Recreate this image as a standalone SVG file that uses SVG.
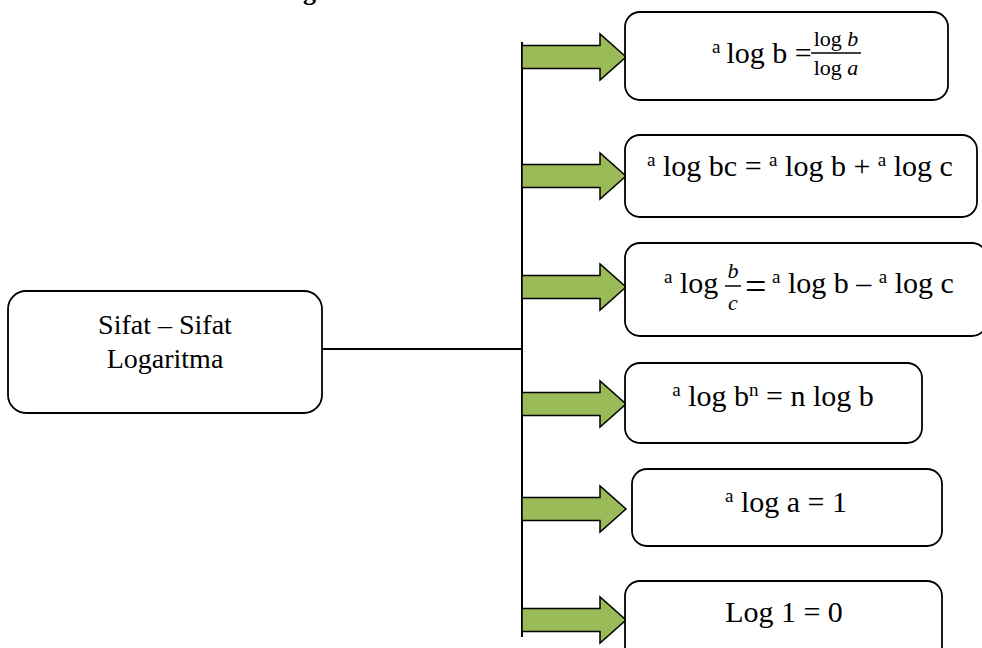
<svg xmlns="http://www.w3.org/2000/svg" width="982" height="648" viewBox="0 0 982 648">
  <style>
    .box { fill: #ffffff; stroke: #000000; stroke-width: 1.8; }
    .arrow { fill: #9BBB59; stroke: #000000; stroke-width: 1.5; stroke-linejoin: miter; }
    .line { stroke: #000000; stroke-width: 2; fill: none; }
    .t { font-family: "Liberation Serif", "Times New Roman", serif; font-size: 30px; fill: #000000; }
    .root { font-size: 28px; }
    .sup { font-size: 19px; }
    .frac { font-family: "Liberation Serif", "Times New Roman", serif; font-size: 22px; fill: #000000; }
    .it { font-style: italic; }
  </style>
  <defs>
    <!-- block arrow, tip at (104, 0), tail at (0, 0) -->
    <path id="blockArrow" class="arrow" d="M0,-11.5 H78 V-23 L104,0 L78,23 V11.5 H0 Z"/>
  </defs>

  <rect width="982" height="648" fill="#ffffff"/>

  <!-- heading fragment at the top edge -->
  <text class="t" x="303" y="0" style="font-weight:bold;font-size:26px">g</text>

  <g id="connectors">
    <line class="line" x1="322" y1="349" x2="522" y2="349"/>
    <line class="line" x1="522" y1="42" x2="522" y2="637"/>
    <use href="#blockArrow" transform="translate(522,57)"/>
    <use href="#blockArrow" transform="translate(522,176)"/>
    <use href="#blockArrow" transform="translate(522,287)"/>
    <use href="#blockArrow" transform="translate(522,404)"/>
    <use href="#blockArrow" transform="translate(522,509)"/>
    <use href="#blockArrow" transform="translate(522,620)"/>
  </g>

  <g id="root">
    <rect class="box" x="8" y="291" width="314" height="122" rx="18"/>
    <text class="t root" x="165" y="334" text-anchor="middle">Sifat – Sifat</text>
    <text class="t root" x="165" y="368" text-anchor="middle">Logaritma</text>
  </g>

  <g id="rule-quotient-base">
    <rect class="box" x="625" y="12" width="323" height="88" rx="15"/>
    <text class="t" x="712" y="63"><tspan class="sup" dy="-10">a</tspan><tspan dx="6" dy="10">log b =</tspan></text>
    <text class="frac" x="836" y="46" text-anchor="middle">log <tspan class="it">b</tspan></text>
    <line x1="811" y1="53" x2="861" y2="53" stroke="#000" stroke-width="1.5"/>
    <text class="frac" x="836" y="75" text-anchor="middle">log <tspan class="it">a</tspan></text>
  </g>

  <g id="rule-product">
    <rect class="box" x="625" y="135" width="352" height="82" rx="15"/>
    <text class="t" x="800" y="176" text-anchor="middle"><tspan class="sup" dy="-10">a</tspan><tspan dy="10"> log bc = </tspan><tspan class="sup" dy="-10">a</tspan><tspan dy="10"> log b + </tspan><tspan class="sup" dy="-10">a</tspan><tspan dy="10"> log c</tspan></text>
  </g>

  <g id="rule-division">
    <rect class="box" x="625" y="243" width="362" height="93" rx="15"/>
    <text class="t" x="664" y="293"><tspan class="sup" dy="-10">a</tspan><tspan dy="10"> log</tspan></text>
    <text class="frac it" x="733" y="278" text-anchor="middle">b</text>
    <line x1="725" y1="286" x2="741" y2="286" stroke="#000" stroke-width="1.5"/>
    <text class="frac it" x="733" y="310" text-anchor="middle">c</text>
    <text class="t" x="745" y="299" style="font-size:38px">=</text>
    <text class="t" x="772" y="293"><tspan class="sup" dy="-10">a</tspan><tspan dy="10"> log b – </tspan><tspan class="sup" dy="-10">a</tspan><tspan dy="10"> log c</tspan></text>
  </g>

  <g id="rule-power">
    <rect class="box" x="625" y="363" width="297" height="80" rx="15"/>
    <text class="t" x="773" y="406" text-anchor="middle"><tspan class="sup" dy="-10">a</tspan><tspan dy="10"> log b</tspan><tspan class="sup" dy="-10">n</tspan><tspan dy="10"> = n log b</tspan></text>
  </g>

  <g id="rule-same-base">
    <rect class="box" x="632" y="469" width="310" height="77" rx="15"/>
    <text class="t" x="786" y="512" text-anchor="middle"><tspan class="sup" dy="-10">a</tspan><tspan dy="10"> log a = 1</tspan></text>
  </g>

  <g id="rule-log-one">
    <rect class="box" x="625" y="581" width="317" height="84" rx="15"/>
    <text class="t" x="784" y="622" text-anchor="middle">Log 1 = 0</text>
  </g>
</svg>
